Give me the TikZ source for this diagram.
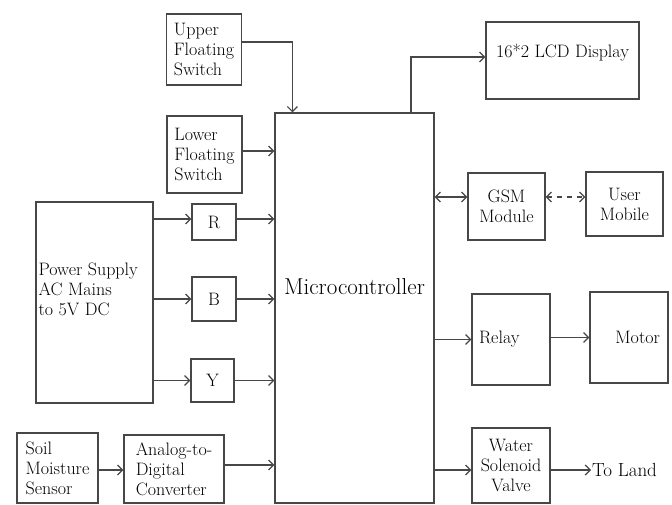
\documentclass[tikz,border=0pt]{standalone}
\usetikzlibrary{arrows.meta}

\begin{document}
\begin{tikzpicture}[x=1pt, y=-1pt,
    >={Straight Barb[length=5pt,width=10pt]},
    blk/.style={draw=black!72, line width=1.2pt, inner sep=3pt, align=center,
      font=\fontsize{18}{20}\selectfont},
    lbl/.style={align=left, font=\fontsize{18}{20}\selectfont},
    arr/.style={draw=black!72, line width=1.2pt, ->}]
  \useasboundingbox (0,0) rectangle (672,505);
  % left side
  \node[blk, align=left, minimum width=75pt, minimum height=71pt] (ufs) at (204,49.5) {Upper\\Floating\\Switch};
  \node[blk, align=left, minimum width=75pt, minimum height=77pt] (lfs) at (204.5,154.5) {Lower\\Floating\\Switch};
  \node[blk, minimum width=117pt, minimum height=201pt,
    label={[lbl, anchor=west, yshift=13.5pt, inner sep=3pt]west:Power Supply\\AC Mains\\to 5V DC}] (ps) at (94.5,302.5) {};
  \node[blk, minimum width=44pt, minimum height=36pt] (r) at (214,222) {R};
  \node[blk, minimum width=44pt, minimum height=44pt] (b) at (214,299) {B};
  \node[blk, minimum width=43pt, minimum height=43pt] (y) at (212.5,380.5) {Y};
  \node[blk, align=left, minimum width=81pt, minimum height=70pt] (soil) at (57.5,468) {Soil\\Moisture\\Sensor};
  \node[blk, align=left, minimum width=100pt, minimum height=68pt] (adc) at (174,469) {Analog-to-\\Digital\\Converter};
  % centre
  \node[blk, minimum width=159pt, minimum height=390pt,
    label={[font=\fontsize{23}{26}\selectfont, yshift=21pt]center:Microcontroller}] (mc) at (354.5,308) {};
  % right side
  \node[blk, minimum width=153pt, text height=33pt, text depth=38pt] (lcd) at (562.5,60.5) {16*2 LCD Display};
  \node[blk, minimum width=77pt, minimum height=67pt] (gsm) at (506.5,206.5) {GSM\\Module};
  \node[blk, minimum width=77pt, minimum height=64pt] (um) at (624.5,204) {User\\Mobile};
  \node[blk, align=left, text width=64pt, inner sep=7pt, minimum height=91pt] (relay) at (511,339.5) {Relay};
  \node[blk, align=right, text width=62pt, inner sep=8pt, minimum height=91pt] (motor) at (629,337.5) {Motor};
  \node[blk, minimum width=78pt, minimum height=75pt] (valve) at (511,465.5) {Water\\Solenoid\\Valve};
  \node[lbl, font=\fontsize{19}{22}\selectfont, anchor=west, inner sep=1pt] (land) at (591,470) {To Land};

  % connectors
  \draw[arr] ([yshift=7.5pt]ufs.east) -| ([xshift=18pt]mc.north west);
  \draw[arr] ([yshift=3.5pt]lfs.east) -- ([yshift=3.5pt]lfs.east -| mc.west);
  \draw[arr] ([yshift=3pt]ps.east |- r.west) -- ([yshift=3pt]r.west);
  \draw[arr] ([yshift=3pt]r.east) -- ([yshift=3pt]r.east -| mc.west);
  \draw[arr] (ps.east |- b.west) -- (b.west);
  \draw[arr] (b.east) -- (b.east -| mc.west);
  \draw[arr] (ps.east |- y.west) -- (y.west);
  \draw[arr] (y.east) -- (y.east -| mc.west);
  \draw[arr] ([yshift=-2pt]soil.east) -- ([yshift=-2pt]soil.east -| adc.west);
  \draw[arr] ([yshift=4pt]adc.east) -- ([yshift=4pt]adc.east -| mc.west);
  \draw[arr] ([xshift=56.5pt]mc.north) |- ([yshift=3.5pt]lcd.west);
  \draw[arr, <->] ([yshift=9.5pt]gsm.west -| mc.east) -- ([yshift=9.5pt]gsm.west);
  \draw[arr, <->, dash pattern=on 5pt off 5pt] ([yshift=9.5pt]gsm.east) -- ([yshift=9.5pt]gsm.east -| um.west);
  \draw[arr] (relay.west -| mc.east) -- (relay.west);
  \draw[arr] ([yshift=2pt]relay.east) -- ([yshift=2pt]relay.east -| motor.west);
  \draw[arr] ([yshift=-4.5pt]valve.west -| mc.east) -- ([yshift=-4.5pt]valve.west);
  \draw[arr] ([yshift=-4.5pt]valve.east) -- (land.west);
\end{tikzpicture}
\end{document}
